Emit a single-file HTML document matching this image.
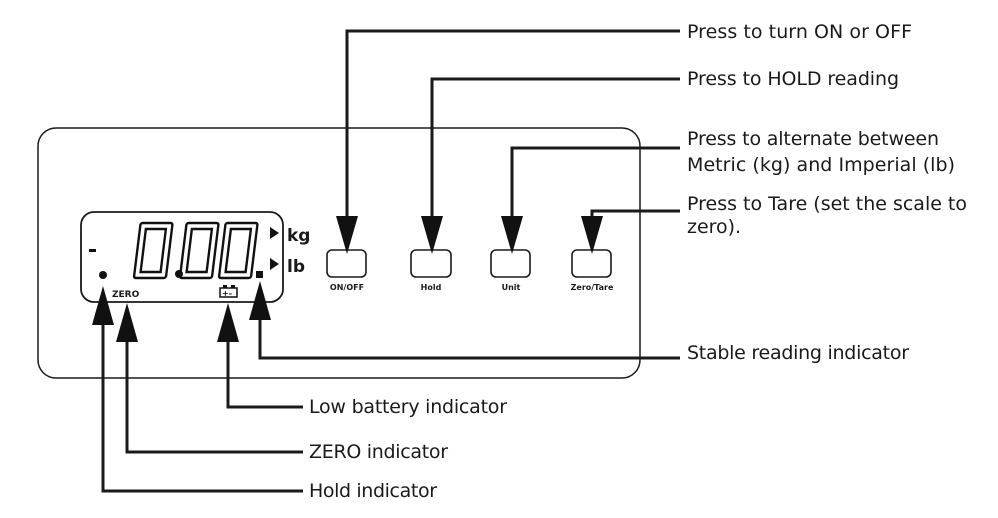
<!DOCTYPE html>
<html><head><style>
html,body{margin:0;padding:0;background:#fff;}
svg{display:block;}
text{font-family:"DejaVu Sans","Liberation Sans",sans-serif;fill:#1a1a1a;}
</style></head><body>
<svg width="998" height="518" viewBox="0 0 998 518" xmlns="http://www.w3.org/2000/svg">
<rect x="38" y="128" width="602" height="250" rx="18" fill="none" stroke="#1a1a1a" stroke-width="1.5"/>
<rect x="81" y="212" width="202" height="90" rx="13" fill="none" stroke="#1a1a1a" stroke-width="1.8"/>
<g fill="none" stroke="#111" stroke-width="2.4" transform="skewX(-7) translate(31,0)">
  <rect x="137" y="223" width="32" height="55" rx="2"/>
  <rect x="143" y="229" width="20" height="43"/>
  <rect x="183" y="223" width="32" height="55" rx="2"/>
  <rect x="189" y="229" width="20" height="43"/>
  <rect x="222" y="223" width="32" height="55" rx="2"/>
  <rect x="228" y="229" width="20" height="43"/>
</g>
<circle cx="179" cy="274" r="4" fill="#111"/>
<rect x="256" y="271" width="7" height="7" fill="#111"/>
<rect x="89" y="249" width="7" height="3" fill="#111"/>
<circle cx="103" cy="275" r="4" fill="#111"/>
<text x="112" y="297" font-size="9" font-weight="bold">ZERO</text>
<rect x="220" y="288" width="17" height="9" fill="none" stroke="#111" stroke-width="1.5"/>
<rect x="223" y="285" width="4" height="3" fill="#111"/><rect x="231" y="285" width="4" height="3" fill="#111"/>
<text x="222" y="296" font-size="8" font-weight="bold">+-</text>
<polygon points="270,227 279,233 270,239" fill="#111"/>
<polygon points="270,258 279,264 270,270" fill="#111"/>
<text x="287" y="241" font-size="17" font-weight="bold">kg</text>
<text x="287" y="272" font-size="17" font-weight="bold">lb</text>
<g fill="none" stroke="#1a1a1a" stroke-width="1.6">
<rect x="327" y="250" width="39" height="27" rx="5"/>
<rect x="411" y="250" width="40" height="27" rx="5"/>
<rect x="491" y="250" width="39" height="27" rx="5"/>
<rect x="572" y="250" width="39" height="27" rx="5"/>
</g>
<g font-size="8" font-weight="bold" text-anchor="middle">
<text x="347" y="290">ON/OFF</text>
<text x="431" y="290">Hold</text>
<text x="511" y="290">Unit</text>
<text x="592" y="290">Zero/Tare</text>
</g>
<g fill="none" stroke="#1a1a1a" stroke-width="3">
<polyline points="680,31 347,31 347,222"/>
<polyline points="680,79 432,79 432,222"/>
<polyline points="680,148 512,148 512,222"/>
<polyline points="680,211 592,211 592,222"/>
<polyline points="680,358 260,358 260,310"/>
<polyline points="303,407 228,407 228,335"/>
<polyline points="303,452 127,452 127,335"/>
<polyline points="303,491 103,491 103,320"/>
</g>
<g fill="#111">
<polygon points="336,216 358,216 347,254"/>
<polygon points="421,216 443,216 432,254"/>
<polygon points="501,216 523,216 512,254"/>
<polygon points="581,216 603,216 592,254"/>
<polygon points="249,320 271,320 260,281"/>
<polygon points="217,342 239,342 228,303"/>
<polygon points="116,342 138,342 127,303"/>
<polygon points="92,325 114,325 103,286"/>
</g>
<g font-size="19">
<text x="687" y="38" textLength="225">Press to turn ON or OFF</text>
<text x="687" y="85" textLength="212">Press to HOLD reading</text>
<text x="687" y="145" textLength="252">Press to alternate between</text>
<text x="687" y="171" textLength="268">Metric (kg) and Imperial (lb)</text>
<text x="687" y="210" textLength="280">Press to Tare (set the scale to</text>
<text x="687" y="233" textLength="54">zero).</text>
<text x="687" y="359" textLength="222">Stable reading indicator</text>
<text x="309" y="413" textLength="198">Low battery indicator</text>
<text x="309" y="458" textLength="139">ZERO indicator</text>
<text x="309" y="497" textLength="128">Hold indicator</text>
</g>
</svg>
</body></html>
